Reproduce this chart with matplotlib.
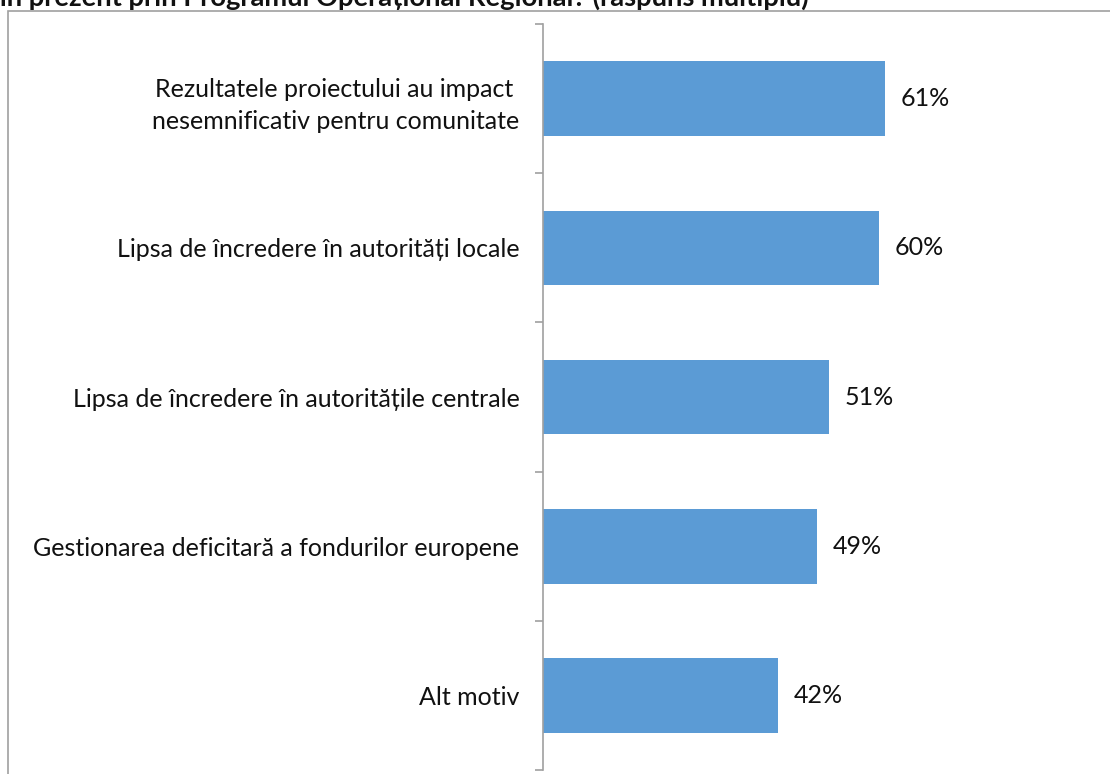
import matplotlib
matplotlib.use('Agg')
import matplotlib.pyplot as plt
from matplotlib.patches import Rectangle

# data
categories = ['Rezultatele proiectului au impact \nnesemnificativ pentru comunitate',
              'Lipsa de încredere în autorități locale',
              'Lipsa de încredere în autoritățile centrale',
              'Gestionarea deficitară a fondurilor europene',
              'Alt motiv']
values = [61, 60, 51, 49, 42]
title = ('Care sunt motivele pentru care nu ați aplicat până în prezent '
         'prin Programul Operațional Regional? (răspuns multiplu)')

W, H = 1110, 774
plt.rcParams['font.family'] = ['Lato', 'DejaVu Sans']

fig = plt.figure(figsize=(W / 100, H / 100), dpi=100)
ax = fig.add_axes([543 / W, 1 - 770 / H, 560 / W, (770 - 24) / H])

pos = list(range(len(categories)))
ax.barh(pos, values, height=0.5, color='#5b9bd5')
for p, v in zip(pos, values):
    ax.text(v + 2.8, p, f'{v}%', va='center', ha='left', fontsize=18, color='#111111')

ax.set_xlim(0, 100)
ax.set_ylim(len(categories) - 0.5, -0.5)
ax.set_yticks(pos)
ax.set_yticklabels(categories, fontsize=18, color='#111111', ha='right',
                   linespacing=1.47)
ax.set_yticks([i - 0.5 for i in range(len(categories) + 1)], minor=True)
ax.tick_params(axis='y', which='major', length=0, pad=17)
ax.tick_params(axis='y', which='minor', length=5.8, color='#a0a0a0', width=1.2)
ax.set_xticks([])
for s in ['top', 'right', 'bottom']:
    ax.spines[s].set_visible(False)
ax.spines['left'].set_color('#a0a0a0')
ax.spines['left'].set_linewidth(1.2)

# outer chart border
fig.patches.append(Rectangle((8 / W, -0.05), 1.2, 1.05 - 11 / H, transform=fig.transFigure,
                             fill=False, edgecolor='#a0a0a0', linewidth=1.2))

fig.text(809 / W, 1 - 6 / H, title, ha='right', va='baseline',
         fontsize=19.7, fontweight='bold', color='#111111')

fig.savefig('out.png', dpi=100)
